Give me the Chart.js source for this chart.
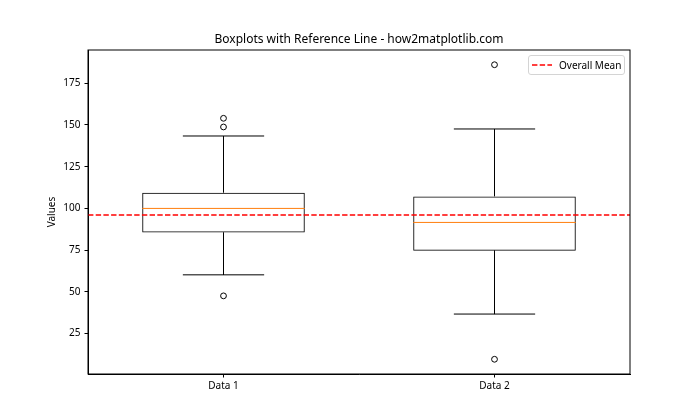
<!DOCTYPE html>
<html>
<head>
<meta charset="utf-8">
<title>Boxplots with Reference Line</title>
<script src="https://cdn.jsdelivr.net/npm/chart.js@4.4.1/dist/chart.umd.min.js"></script>
<style>
  body { margin: 0; background: #fff; }
  #wrap { position: relative; width: 700px; height: 420px; font-family: "Noto Sans", sans-serif; color: #000; }
  #title { position: absolute; left: 88px; width: 542px; top: 32px; line-height: 14px; text-align: center; font-size: 12px; }
  #legend {
    position: absolute; left: 528px; top: 55px; width: 97px; height: 20px; box-sizing: border-box;
    border: 1px solid #d4d4d4; border-radius: 3px; background: rgba(255,255,255,0.8);
    display: flex; align-items: center; padding-left: 3px; font-size: 10px;
  }
  #legend svg { margin-right: 7px; }
</style>
</head>
<body>
<div id="wrap">
  <canvas id="boxChart" width="700" height="420"></canvas>
  <div id="title">Boxplots with Reference Line - how2matplotlib.com</div>
  <div id="legend">
    <svg width="20" height="4"><line x1="0" y1="2" x2="20" y2="2" stroke="#ff0000" stroke-width="1.5" stroke-dasharray="5.4 2.3"/></svg>
    <span>Overall Mean</span>
  </div>
</div>
<script>
// Box statistics
const categories = ['Data 1', 'Data 2'];
const positions = [1, 2];
const q1 = [85.5, 74.7];
const medians = [100.0, 91.6];
const q3 = [109.4, 107.2];
const whiskerLow = [60.2, 36.7];
const whiskerHigh = [143.4, 147.6];
const outliers = [[154.0, 148.8, 47.6], [186.1, 9.6]];
const overallMean = 96.0;
const yTicks = [25, 50, 75, 100, 125, 150, 175];

// geometry (in x-axis units, like matplotlib)
const BOX_W = 0.6;
const CAP_W = 0.3;

// matplotlib-style autoscale: 5% margin around everything drawn
const allVals = [...whiskerLow, ...whiskerHigh, ...outliers.flat()];
const dMin = Math.min(...allVals), dMax = Math.max(...allVals);
const yMin = dMin - 0.05 * (dMax - dMin);
const yMax = dMax + 0.05 * (dMax - dMin);

// helper: list of [from, to] point pairs -> one broken polyline
function segments(pairs) {
  const pts = [];
  pairs.forEach(([a, b]) => { pts.push(a, b, { x: a.x, y: null }); });
  return pts;
}

const whiskerPts = segments(positions.flatMap((p, i) => [
  [{ x: p, y: q1[i] }, { x: p, y: whiskerLow[i] }],
  [{ x: p, y: q3[i] }, { x: p, y: whiskerHigh[i] }]
]));
const capPts = segments(positions.flatMap((p, i) => [
  [{ x: p - CAP_W / 2, y: whiskerLow[i] }, { x: p + CAP_W / 2, y: whiskerLow[i] }],
  [{ x: p - CAP_W / 2, y: whiskerHigh[i] }, { x: p + CAP_W / 2, y: whiskerHigh[i] }]
]));
const medianPts = segments(positions.map((p, i) =>
  [{ x: p - BOX_W / 2, y: medians[i] }, { x: p + BOX_W / 2, y: medians[i] }]
));
const outlierPts = positions.flatMap((p, i) => outliers[i].map(v => ({ x: p, y: v })));
const meanPts = [{ x: 0.5, y: overallMean }, { x: 2.5, y: overallMean }];

const lineStyle = { type: 'line', pointRadius: 0, borderWidth: 1, spanGaps: false, fill: false, tension: 0 };

// full frame around the axes (top/right spines)
const framePlugin = {
  id: 'frame',
  afterDraw(chart) {
    const { ctx, chartArea: a } = chart;
    ctx.save();
    ctx.strokeStyle = '#000';
    ctx.lineWidth = 1;
    ctx.strokeRect(a.left, a.top, a.right - a.left, a.bottom - a.top);
    ctx.restore();
  }
};

new Chart(document.getElementById('boxChart'), {
  data: {
    datasets: [
      {
        type: 'bar',
        data: positions.map((p, i) => ({ x: p, y: [q1[i], q3[i]] })),
        backgroundColor: 'rgba(0,0,0,0)',
        borderColor: '#000',
        borderWidth: 1,
        borderSkipped: false,
        categoryPercentage: 1,
        barPercentage: BOX_W,
        order: 5
      },
      { ...lineStyle, data: whiskerPts, borderColor: '#000', order: 4 },
      { ...lineStyle, data: capPts, borderColor: '#000', order: 4 },
      { ...lineStyle, data: medianPts, borderColor: '#ff7f0e', order: 3 },
      {
        type: 'scatter',
        data: outlierPts,
        pointStyle: 'circle',
        pointRadius: 2.9,
        pointBorderWidth: 1,
        pointBorderColor: '#000',
        pointBackgroundColor: 'rgba(0,0,0,0)',
        order: 2
      },
      { ...lineStyle, data: meanPts, borderColor: '#ff0000', borderWidth: 1.5, borderDash: [5.4, 2.3], order: 0 }
    ]
  },
  options: {
    responsive: false,
    animation: false,
    layout: { padding: { left: 0, right: 70, top: 50, bottom: 0 } },
    plugins: {
      legend: { display: false },
      tooltip: { enabled: false },
      title: { display: false }
    },
    scales: {
      x: {
        type: 'linear',
        min: 0.5,
        max: 2.5,
        offset: false,
        afterFit: (s) => { s.height = 46; },
        afterBuildTicks: (s) => { s.ticks = positions.map(v => ({ value: v })); },
        grid: { offset: false, drawOnChartArea: false, drawTicks: true, tickLength: 3.5, color: '#000' },
        border: { display: true, color: '#000', width: 1 },
        ticks: {
          color: '#000', padding: 3, font: { family: 'Noto Sans', size: 10 },
          callback: (v) => categories[positions.indexOf(v)] || ''
        }
      },
      y: {
        type: 'linear',
        min: yMin,
        max: yMax,
        afterFit: (s) => { s.width = 88; },
        afterBuildTicks: (s) => { s.ticks = yTicks.map(v => ({ value: v })); },
        grid: { drawOnChartArea: false, drawTicks: true, tickLength: 3.5, color: '#000' },
        border: { display: true, color: '#000', width: 1 },
        ticks: { color: '#000', padding: 4, font: { family: 'Noto Sans', size: 10 }, callback: (v) => String(v) },
        title: {
          display: true, text: 'Values', color: '#000',
          font: { family: 'Noto Sans', size: 10 }, padding: { top: 46, bottom: 0 }
        }
      }
    }
  },
  plugins: [framePlugin]
});
</script>
</body>
</html>
